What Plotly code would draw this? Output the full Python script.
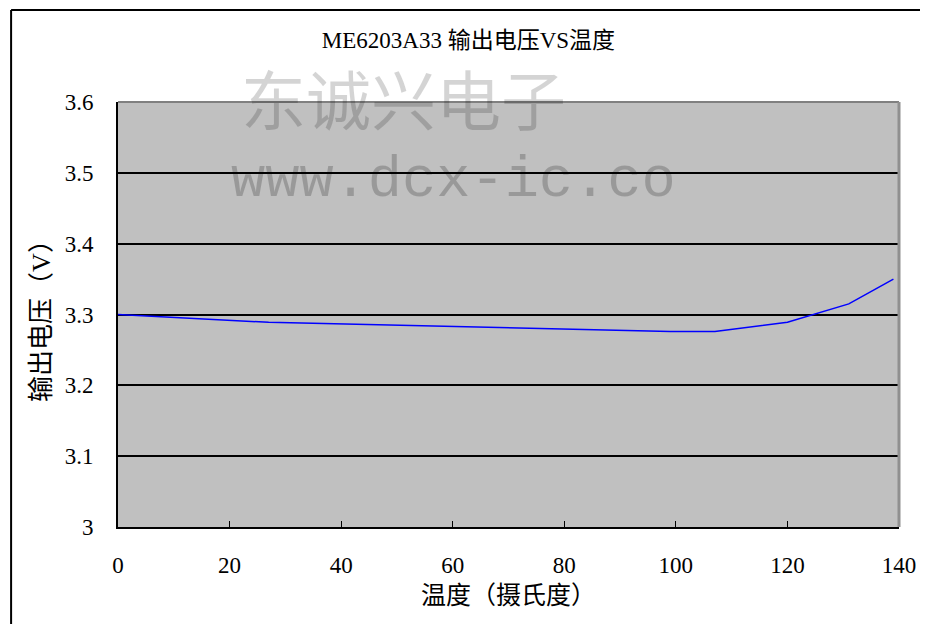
import plotly.graph_objects as go

temps = [0, 27, 99, 107, 120, 131, 139]
volts = [3.300, 3.289, 3.276, 3.276, 3.289, 3.315, 3.350]

x_ticks = [0, 20, 40, 60, 80, 100, 120, 140]
y_ticks = [3.0, 3.1, 3.2, 3.3, 3.4, 3.5, 3.6]
y_tick_text = ["3", "3.1", "3.2", "3.3", "3.4", "3.5", "3.6"]

title_text = "ME6203A33 输出电压VS温度"
x_title = "温度（摄氏度）"
y_title = "输出电压（V）"
wm1 = "东诚兴电子"
wm2 = "www.dcx-ic.co"

FONT = "Liberation Serif, Noto Sans CJK SC, serif"

# page body has an 8px margin; figure coordinates are offset accordingly
W, H = 920, 616
L, T = 110, 94
PW, PH = 789, 425

def px(xv):
    return (xv - 8 - L) / PW

def py(yv):
    return 1 - (yv - 8 - T) / PH

fig = go.Figure()
fig.add_trace(go.Scatter(x=temps, y=volts, mode="lines",
                         line=dict(color="#0000ff", width=1.5),
                         showlegend=False, hoverinfo="skip"))

fig.update_layout(
    width=W, height=H,
    margin=dict(l=L, r=W - L - PW, t=T, b=H - T - PH),
    paper_bgcolor="white", plot_bgcolor="#c0c0c0",
    font=dict(family=FONT, color="black", size=23),
    title=dict(text=title_text, xref="paper", x=px(472), xanchor="center",
               yref="container", y=1 - (40 - 8) / H, yanchor="middle",
               font=dict(family=FONT, size=23, color="black")),
    xaxis=dict(range=[0, 140], tickvals=x_ticks, ticks="inside", ticklen=6,
               tickcolor="black", tickwidth=1, showgrid=False, zeroline=False,
               showline=True, linecolor="black", linewidth=2,
               tickfont=dict(family=FONT, size=23), ticklabelstandoff=16,
               title=dict(text=x_title, font=dict(family=FONT, size=25), standoff=10)),
    yaxis=dict(range=[3.0, 3.6], tickvals=y_ticks, ticktext=y_tick_text,
               showgrid=True, gridcolor="black", gridwidth=1.5, zeroline=False,
               showline=True, linecolor="black", linewidth=2, ticks="",
               tickfont=dict(family=FONT, size=23), ticklabelstandoff=18,
               title=dict(text=y_title, font=dict(family=FONT, size=26), standoff=7)),
    shapes=[
        dict(type="line", xref="paper", yref="paper", x0=0, x1=1, y0=1, y1=1,
             line=dict(color="#808080", width=2), layer="above"),
        dict(type="line", xref="paper", yref="paper", x0=1, x1=1, y0=0, y1=1,
             line=dict(color="#909090", width=3), layer="above"),
        dict(type="line", xref="paper", yref="paper", x0=px(10), x1=px(960), y0=py(10), y1=py(10),
             line=dict(color="black", width=2), layer="above"),
        dict(type="line", xref="paper", yref="paper", x0=px(10), x1=px(10), y0=py(10), y1=py(660),
             line=dict(color="black", width=2), layer="above"),
    ],
    annotations=[
        dict(text=wm1, xref="paper", yref="paper", x=px(406), y=py(97),
             xanchor="center", yanchor="middle", showarrow=False,
             font=dict(family="Noto Sans CJK SC", size=65, color="rgba(0,0,0,0.17)")),
        dict(text=wm2, xref="paper", yref="paper", x=px(457), y=py(181),
             xanchor="center", yanchor="middle", showarrow=False,
             font=dict(family="Liberation Mono", size=57, color="rgba(0,0,0,0.2)")),
    ],
)

fig.write_html("out.html")
